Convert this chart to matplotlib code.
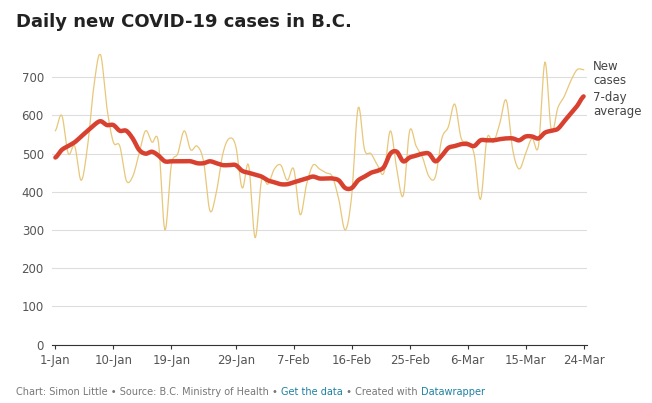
import numpy as np
import matplotlib
matplotlib.use("Agg")
import matplotlib.pyplot as plt

new_cases = [
    560, 600, 500, 520, 430, 520, 680, 760, 620, 530, 520, 430, 440, 500, 560, 530,
    530, 300, 470, 500, 560, 510, 520, 480, 350, 400, 500, 540, 520, 410, 470,
    280, 430, 420, 460, 470, 430, 460, 340, 420, 470, 460, 450, 440, 380, 300,
    390, 620, 510, 500, 470, 450, 560, 460, 390, 560, 520, 490, 440,
    440, 540, 570, 630, 540, 530, 500, 380, 540, 530, 580, 640, 510, 460, 500,
    540, 520, 740, 560, 620, 650, 690, 720, 720,
]
avg_7day = [
    490, 510, 520, 530, 545, 560, 575, 585, 575, 575, 560, 560, 540, 510, 500, 505,
    495, 480, 480, 480, 480, 480, 475, 475, 480, 475, 470, 470, 470, 455, 450,
    445, 440, 430, 425, 420, 420, 425, 430, 435, 440, 435, 435, 435, 430, 410,
    410, 430, 440, 450, 455, 465, 500, 505, 480, 490, 495, 500, 500,
    480, 495, 515, 520, 525, 525, 520, 535, 535, 535, 538, 540, 540, 535, 545,
    545, 540, 555, 560, 565, 585, 605, 625, 650,
]
tick_days = [0, 9, 18, 28, 37, 46, 55, 64, 73, 82]
tick_labels = ["1-Jan", "10-Jan", "19-Jan", "29-Jan", "7-Feb", "16-Feb",
               "25-Feb", "6-Mar", "15-Mar", "24-Mar"]
y_ticks = [0, 100, 200, 300, 400, 500, 600, 700]


def smooth(y, n=8):
    """Catmull-Rom curve through the points, like Datawrapper's curved lines."""
    y = np.asarray(y, dtype=float)
    p = np.concatenate([[y[0]], y, [y[-1]]])
    xs, ys = [], []
    t = np.linspace(0, 1, n, endpoint=False)
    for i in range(len(y) - 1):
        p0, p1, p2, p3 = p[i], p[i + 1], p[i + 2], p[i + 3]
        seg = 0.5 * (2 * p1 + (-p0 + p2) * t + (2 * p0 - 5 * p1 + 4 * p2 - p3) * t**2
                     + (-p0 + 3 * p1 - 3 * p2 + p3) * t**3)
        xs.extend(i + t)
        ys.extend(seg)
    xs.append(len(y) - 1)
    ys.append(y[-1])
    return np.array(xs), np.array(ys)


fig = plt.figure(figsize=(6.52, 4.03), dpi=100)
ax = fig.add_axes([0.08, 0.145, 0.82, 0.72])

ax.plot(*smooth(new_cases), color="#e8c77a", linewidth=0.9, zorder=2)
ax.plot(*smooth(avg_7day), color="#d8412f", linewidth=3.2, solid_capstyle="round", zorder=3)

ax.set_xlim(-0.5, 82.5)
ax.set_ylim(0, 760)
ax.set_yticks(y_ticks)
ax.set_xticks(tick_days)
ax.set_xticklabels(tick_labels)
ax.grid(axis="y", color="#dddddd", linewidth=0.8)
ax.set_axisbelow(True)
for s in ["top", "right", "left"]:
    ax.spines[s].set_visible(False)
ax.spines["bottom"].set_color("#333333")
ax.tick_params(axis="y", length=0, labelsize=8.5, labelcolor="#555555", pad=6)
ax.tick_params(axis="x", length=3, labelsize=8.5, labelcolor="#555555", color="#333333")

ax.text(83.5, 745, "New\ncases", fontsize=8.5, color="#444444",
        va="top", ha="left", linespacing=1.1)
ax.text(83.5, 665, "7-day\naverage", fontsize=8.5, color="#444444",
        va="top", ha="left", linespacing=1.1)

fig.text(0.025, 0.945, "Daily new COVID-19 cases in B.C.", fontsize=13,
         fontweight="bold", color="#222222", va="center")

# footer: chain the pieces one after another
parts = [
    ("Chart: Simon Little \u2022 Source: B.C. Ministry of Health \u2022 ", "#777777"),
    ("Get the data", "#1d81a2"),
    (" \u2022 Created with ", "#777777"),
    ("Datawrapper", "#1d81a2"),
]
renderer = fig.canvas.get_renderer()
x = 0.025
for txt, col in parts:
    t = fig.text(x, 0.02, txt, fontsize=7, color=col)
    bb = t.get_window_extent(renderer=renderer)
    x += bb.width / fig.bbox.width

fig.savefig("out.png", dpi=100)
